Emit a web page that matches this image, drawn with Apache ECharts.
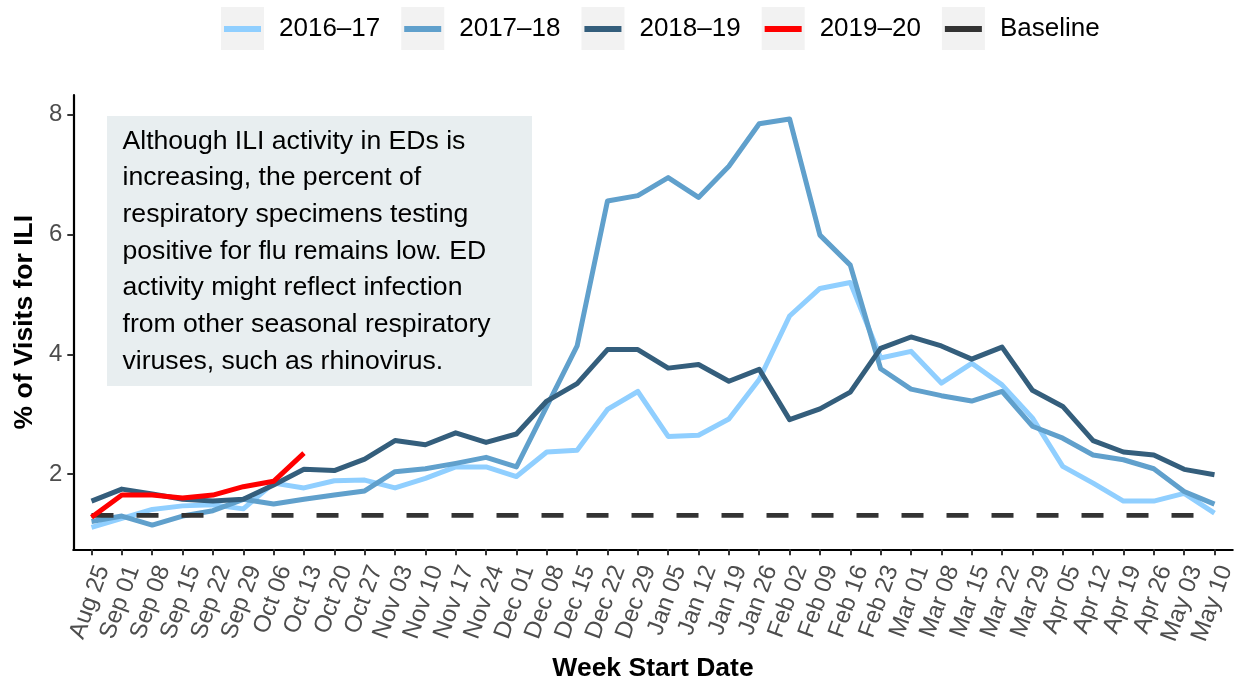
<!DOCTYPE html>
<html>
<head>
<meta charset="utf-8">
<script src="https://cdn.jsdelivr.net/npm/echarts@6/dist/echarts.min.js"></script>
<style>
html,body{margin:0;padding:0;background:#fff;}
#chart{width:1235px;height:681px;}
</style>
</head>
<body>
<div id="chart"></div>
<script>
// ---- data ----
const weeks = ['Aug 25','Sep 01','Sep 08','Sep 15','Sep 22','Sep 29','Oct 06','Oct 13','Oct 20','Oct 27',
  'Nov 03','Nov 10','Nov 17','Nov 24','Dec 01','Dec 08','Dec 15','Dec 22','Dec 29','Jan 05',
  'Jan 12','Jan 19','Jan 26','Feb 02','Feb 09','Feb 16','Feb 23','Mar 01','Mar 08','Mar 15',
  'Mar 22','Mar 29','Apr 05','Apr 12','Apr 19','Apr 26','May 03','May 10'];
const s1617 = [1.11,1.26,1.41,1.47,1.49,1.42,1.85,1.77,1.89,1.90,1.77,1.93,2.12,2.12,1.96,2.37,2.40,3.08,3.38,2.63,
  2.65,2.92,3.58,4.64,5.10,5.20,3.94,4.05,3.52,3.85,3.49,2.94,2.13,1.85,1.55,1.55,1.68,1.35];
const s1718 = [1.21,1.30,1.15,1.30,1.39,1.58,1.50,1.58,1.65,1.72,2.04,2.09,2.18,2.28,2.12,3.13,4.14,6.56,6.65,6.95,
  6.62,7.14,7.85,7.93,5.99,5.49,3.76,3.42,3.31,3.22,3.38,2.80,2.60,2.32,2.24,2.09,1.71,1.50];
const s1819 = [1.55,1.75,1.67,1.58,1.55,1.58,1.82,2.08,2.06,2.25,2.56,2.49,2.69,2.53,2.67,3.22,3.51,4.08,4.08,3.77,
  3.83,3.55,3.75,2.91,3.09,3.37,4.10,4.29,4.14,3.92,4.12,3.40,3.13,2.56,2.37,2.32,2.08,1.99];
const s1920 = [1.28,1.65,1.65,1.60,1.65,1.79,1.88,2.35];
const baselineValue = 1.31;
const baselineSpan = ['Aug 25','May 10'];
const seriesNames = ['2016\u201317','2017\u201318','2018\u201319','2019\u201320','Baseline'];
const yTicks = [2,4,6,8];
const annotationText = 'Although ILI activity in EDs is\nincreasing, the percent of\nrespiratory specimens testing\npositive for flu remains low. ED\nactivity might reflect infection\nfrom other seasonal respiratory\nviruses, such as rhinovirus.';

// ---- helpers ----
const pairs = arr => arr.map((v,i)=>[i,v]);
const tickIdx = weeks.map((w,i)=>i);
const baselineData = baselineSpan.map(w=>[weeks.indexOf(w), baselineValue]);

const colors = ['#90CFFF','#60A0CC','#345E7C','#FF0000','#333333'];
const FONT = 'Liberation Sans, Arial, sans-serif';

function lineSeries(name, data, color, extra){
  return Object.assign({
    name, type:'line', data, symbol:'none', silent:true,
    lineStyle:{color, width:5, cap:'butt', join:'round'},
    itemStyle:{color},
    emphasis:{disabled:true}, animation:false
  }, extra||{});
}

const legendCommon = {
  left: 221, top: 7, orient:'horizontal', padding:0,
  itemWidth: 43, itemHeight: 43, itemGap: 21,
  selectedMode: false,
  textStyle:{fontFamily:FONT, fontSize:26, color:'#000', padding:[0,0,0,10]},
  data: seriesNames
};
const iconPath = 'path://M0,0L0.01,0L0,0.01Z M42.99,43L43,43L43,42.99Z M3,19L40,19L40,25L3,25Z';

const option = {
  animation:false,
  backgroundColor:'#ffffff',
  grid:{left:73.3, right:2.3, top:95, bottom:131.7, outerBoundsMode:'none', containLabel:false},
  legend:[
    Object.assign({}, legendCommon, {
      icon:'rect',
      itemStyle:{color:'#F2F2F2', borderWidth:0, opacity:1}
    }),
    Object.assign({}, legendCommon, {
      icon: iconPath,
      itemStyle:{borderWidth:0},
      textStyle:Object.assign({}, legendCommon.textStyle, {color:'rgba(0,0,0,0)'})
    })
  ],
  xAxis:{
    type:'value', min:-0.6, max:37.6,
    name:'Week Start Date', nameLocation:'middle', nameGap:106,
    nameTextStyle:{fontFamily:FONT, fontSize:26.5, fontWeight:'bold', color:'#000'},
    splitLine:{show:false},
    axisLine:{show:true, onZero:false, lineStyle:{color:'#000', width:2.2}},
    axisTick:{show:true, length:6, customValues:tickIdx, lineStyle:{color:'#333', width:2}},
    axisLabel:{
      customValues:tickIdx, rotate:70, margin:13, align:'right', verticalAlign:'top',
      fontFamily:FONT, fontSize:24, color:'#4D4D4D',
      formatter: v => weeks[Math.round(v)]
    }
  },
  yAxis:{
    type:'value', min:0.745, max:8.33,
    name:'% of Visits for ILI', nameLocation:'middle', nameGap:33, nameRotate:90,
    nameTextStyle:{fontFamily:FONT, fontSize:26.5, fontWeight:'bold', color:'#000'},
    splitLine:{show:false},
    axisLine:{show:true, onZero:false, lineStyle:{color:'#000', width:2.2}},
    axisTick:{show:true, length:6, customValues:yTicks, lineStyle:{color:'#333', width:2}},
    axisLabel:{customValues:yTicks, margin:11, fontFamily:FONT, fontSize:24, color:'#4D4D4D'}
  },
  series:[
    lineSeries(seriesNames[0], pairs(s1617), colors[0]),
    lineSeries(seriesNames[1], pairs(s1718), colors[1]),
    lineSeries(seriesNames[2], pairs(s1819), colors[2]),
    lineSeries(seriesNames[4], baselineData, colors[4], {lineStyle:{color:colors[4], width:4.8, type:[22,23], cap:'butt'}}),
    lineSeries(seriesNames[3], pairs(s1920), colors[3])
  ],
  graphic:[
    {type:'rect', left:107, top:116, z:1, silent:true,
     shape:{width:425, height:270}, style:{fill:'#E8EEF0'}},
    {type:'text', left:122.5, top:123, z:2, silent:true,
     style:{text:annotationText, fontFamily:FONT, fontSize:26.6, lineHeight:36.7, fill:'#000'}}
  ]
};

const chart = echarts.init(document.getElementById('chart'), null, {renderer:'canvas'});
chart.setOption(option);
</script>
</body>
</html>
